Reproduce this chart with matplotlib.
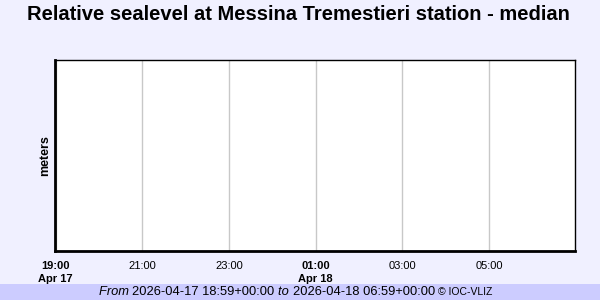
import matplotlib
matplotlib.use("Agg")
import matplotlib.pyplot as plt
from matplotlib.offsetbox import TextArea, HPacker, AnchoredOffsetbox
from matplotlib.patches import Rectangle
from datetime import datetime

plt.rcParams['font.family'] = ['Liberation Sans', 'DejaVu Sans']

title = "Relative sealevel at Messina Tremestieri station - median"
ylabel = "meters"
x_start = "2026-04-17 18:59"
x_end = "2026-04-18 06:59"
tick_times = ["2026-04-17 19:00", "2026-04-17 21:00", "2026-04-17 23:00",
              "2026-04-18 01:00", "2026-04-18 03:00", "2026-04-18 05:00"]
tick_labels = ["19:00\nApr 17", "21:00", "23:00", "01:00\nApr 18", "03:00", "05:00"]
tick_bold = [True, False, False, True, False, False]
footer_from = "2026-04-17 18:59+00:00"
footer_to = "2026-04-18 06:59+00:00"

fmt = "%Y-%m-%d %H:%M"
t0 = datetime.strptime(x_start, fmt)
t1 = datetime.strptime(x_end, fmt)
ticks = [datetime.strptime(t, fmt) for t in tick_times]

bg = "#F0F0FF"
fig = plt.figure(figsize=(6, 3), dpi=100, facecolor=bg)
ax = fig.add_axes([55/600, 1-251/300, (575-55)/600, (251-60)/300])
ax.set_facecolor("white")
ax.set_xlim(t0, t1)
ax.set_ylim(0, 1)
ax.set_xticks(ticks)
ax.set_xticklabels(tick_labels, fontsize=8)
for lbl, b in zip(ax.get_xticklabels(), tick_bold):
    lbl.set_fontweight("bold" if b else "normal")
    lbl.set_linespacing(1.45)
ax.tick_params(axis='x', length=0, pad=7)
ax.set_yticks([])
ax.grid(axis='x', color="#C8C8C8", linewidth=1)
for s in ["top", "right"]:
    ax.spines[s].set_linewidth(1)
for s in ["left", "bottom"]:
    ax.spines[s].set_linewidth(2)
ax.set_ylabel(ylabel, fontsize=9, fontweight="bold", labelpad=3)

fig.text(0.497, 1-15/300, title, ha="center", va="center",
         fontsize=14.5, fontweight="bold")

fig.patches.append(Rectangle((0, 0), 1, 16/300, transform=fig.transFigure,
                             facecolor="#CCCCFF", edgecolor="none", zorder=0))

fs = 9.3
parts = [
    TextArea("From ", textprops=dict(fontsize=fs, style="italic")),
    TextArea(footer_from + " ", textprops=dict(fontsize=fs)),
    TextArea("to ", textprops=dict(fontsize=fs, style="italic")),
    TextArea(footer_to + " ", textprops=dict(fontsize=fs)),
    TextArea("© IOC-VLIZ", textprops=dict(fontsize=7.5)),
]
pack = HPacker(children=parts, align="baseline", pad=0, sep=0)
ab = AnchoredOffsetbox(loc="center", child=pack, frameon=False,
                       bbox_to_anchor=(0.493, 8/300), bbox_transform=fig.transFigure,
                       pad=0, borderpad=0)
fig.add_artist(ab)

fig.savefig("out.png", dpi=100, facecolor=bg)
